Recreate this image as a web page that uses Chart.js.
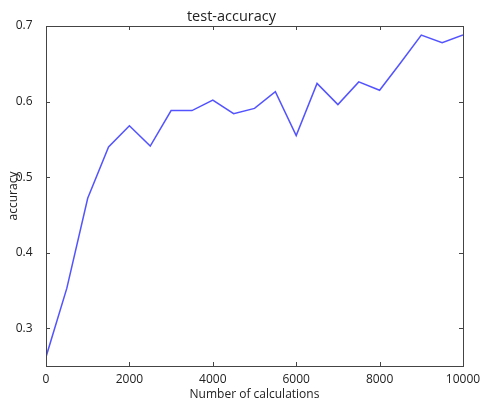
<!DOCTYPE html>
<html>
<head>
<meta charset="utf-8">
<script src="https://cdn.jsdelivr.net/npm/chart.js@4/dist/chart.umd.min.js"></script>
<style>
  html, body { margin: 0; padding: 0; background: #fff; }
  #wrap { width: 481px; height: 403px; }
</style>
</head>
<body>
<div id="wrap"><canvas id="chart"></canvas></div>
<script>
// --- data ---
const calcSteps = [0, 500, 1000, 1500, 2000, 2500, 3000, 3500, 4000, 4500, 5000,
                   5500, 6000, 6500, 7000, 7500, 8000, 8500, 9000, 9500, 10000];
const accuracyValues = [0.262, 0.353, 0.472, 0.540, 0.568, 0.541, 0.588, 0.588, 0.602, 0.584, 0.591,
                        0.613, 0.555, 0.624, 0.596, 0.626, 0.615, 0.651, 0.688, 0.678, 0.688];
const xTicks = [0, 2000, 4000, 6000, 8000, 10000];
const yTicks = [0.3, 0.4, 0.5, 0.6, 0.7];

const FONT = "'Open Sans', sans-serif";
const TEXT = '#222';

// frame + inward ticks on all four sides, matplotlib style
const frameTicks = {
    id: 'frameTicks',
    afterDraw(chart) {
        const { ctx, chartArea: a, scales: { x, y } } = chart;
        ctx.save();
        ctx.strokeStyle = '#444';
        ctx.lineWidth = 1;
        ctx.beginPath();
        xTicks.forEach(v => {
            const px = Math.round(x.getPixelForValue(v)) + 0.5;
            ctx.moveTo(px, a.bottom); ctx.lineTo(px, a.bottom - 4);
            ctx.moveTo(px, a.top); ctx.lineTo(px, a.top + 4);
        });
        yTicks.forEach(v => {
            const py = Math.round(y.getPixelForValue(v)) + 0.5;
            ctx.moveTo(a.left, py); ctx.lineTo(a.left + 4, py);
            ctx.moveTo(a.right, py); ctx.lineTo(a.right - 4, py);
        });
        ctx.stroke();
        ctx.strokeRect(Math.round(a.left) + 0.5, Math.round(a.top) + 0.5,
                       Math.round(a.right - a.left), Math.round(a.bottom - a.top));
        ctx.restore();
    }
};

new Chart(document.getElementById('chart').getContext('2d'), {
    type: 'line',
    data: {
        datasets: [{
            data: calcSteps.map((s, i) => ({ x: s, y: accuracyValues[i] })),
            borderColor: 'rgba(40, 40, 255, 0.8)',
            borderWidth: 1.5,
            pointRadius: 0,
            fill: false,
            tension: 0
        }]
    },
    options: {
        responsive: true,
        maintainAspectRatio: false,
        animation: false,
        layout: { padding: { left: 0, right: 18, top: 0, bottom: 0 } },
        plugins: {
            legend: { display: false },
            tooltip: { enabled: false },
            title: {
                display: true,
                text: 'test-accuracy',
                color: TEXT,
                font: { family: FONT, size: 14.5, weight: 'normal' },
                padding: { top: 8.4, bottom: 0.2 }
            }
        },
        scales: {
            x: {
                type: 'linear',
                min: 0, max: 10000,
                afterBuildTicks: s => { s.ticks = xTicks.map(v => ({ value: v })); },
                afterFit: s => { s.height = 37; },
                grid: { display: false },
                border: { display: false },
                ticks: { color: TEXT, font: { family: FONT, size: 12 }, padding: -2, maxRotation: 0,
                         callback: v => String(v) },
                title: {
                    display: true,
                    text: 'Number of calculations',
                    color: TEXT,
                    font: { family: FONT, size: 12 },
                    padding: { top: 0, bottom: 1 }
                }
            },
            y: {
                type: 'linear',
                min: 0.25, max: 0.7,
                afterBuildTicks: s => { s.ticks = yTicks.map(v => ({ value: v })); },
                afterFit: s => { s.width = 46; },
                grid: { display: false },
                border: { display: false },
                ticks: { color: TEXT, font: { family: FONT, size: 12 }, padding: 5.5,
                         callback: v => v.toFixed(1) },
                title: {
                    display: true,
                    text: 'accuracy',
                    color: TEXT,
                    font: { family: FONT, size: 12 },
                    padding: { top: 6, bottom: 0 }
                }
            }
        }
    },
    plugins: [frameTicks]
});
</script>
</body>
</html>
